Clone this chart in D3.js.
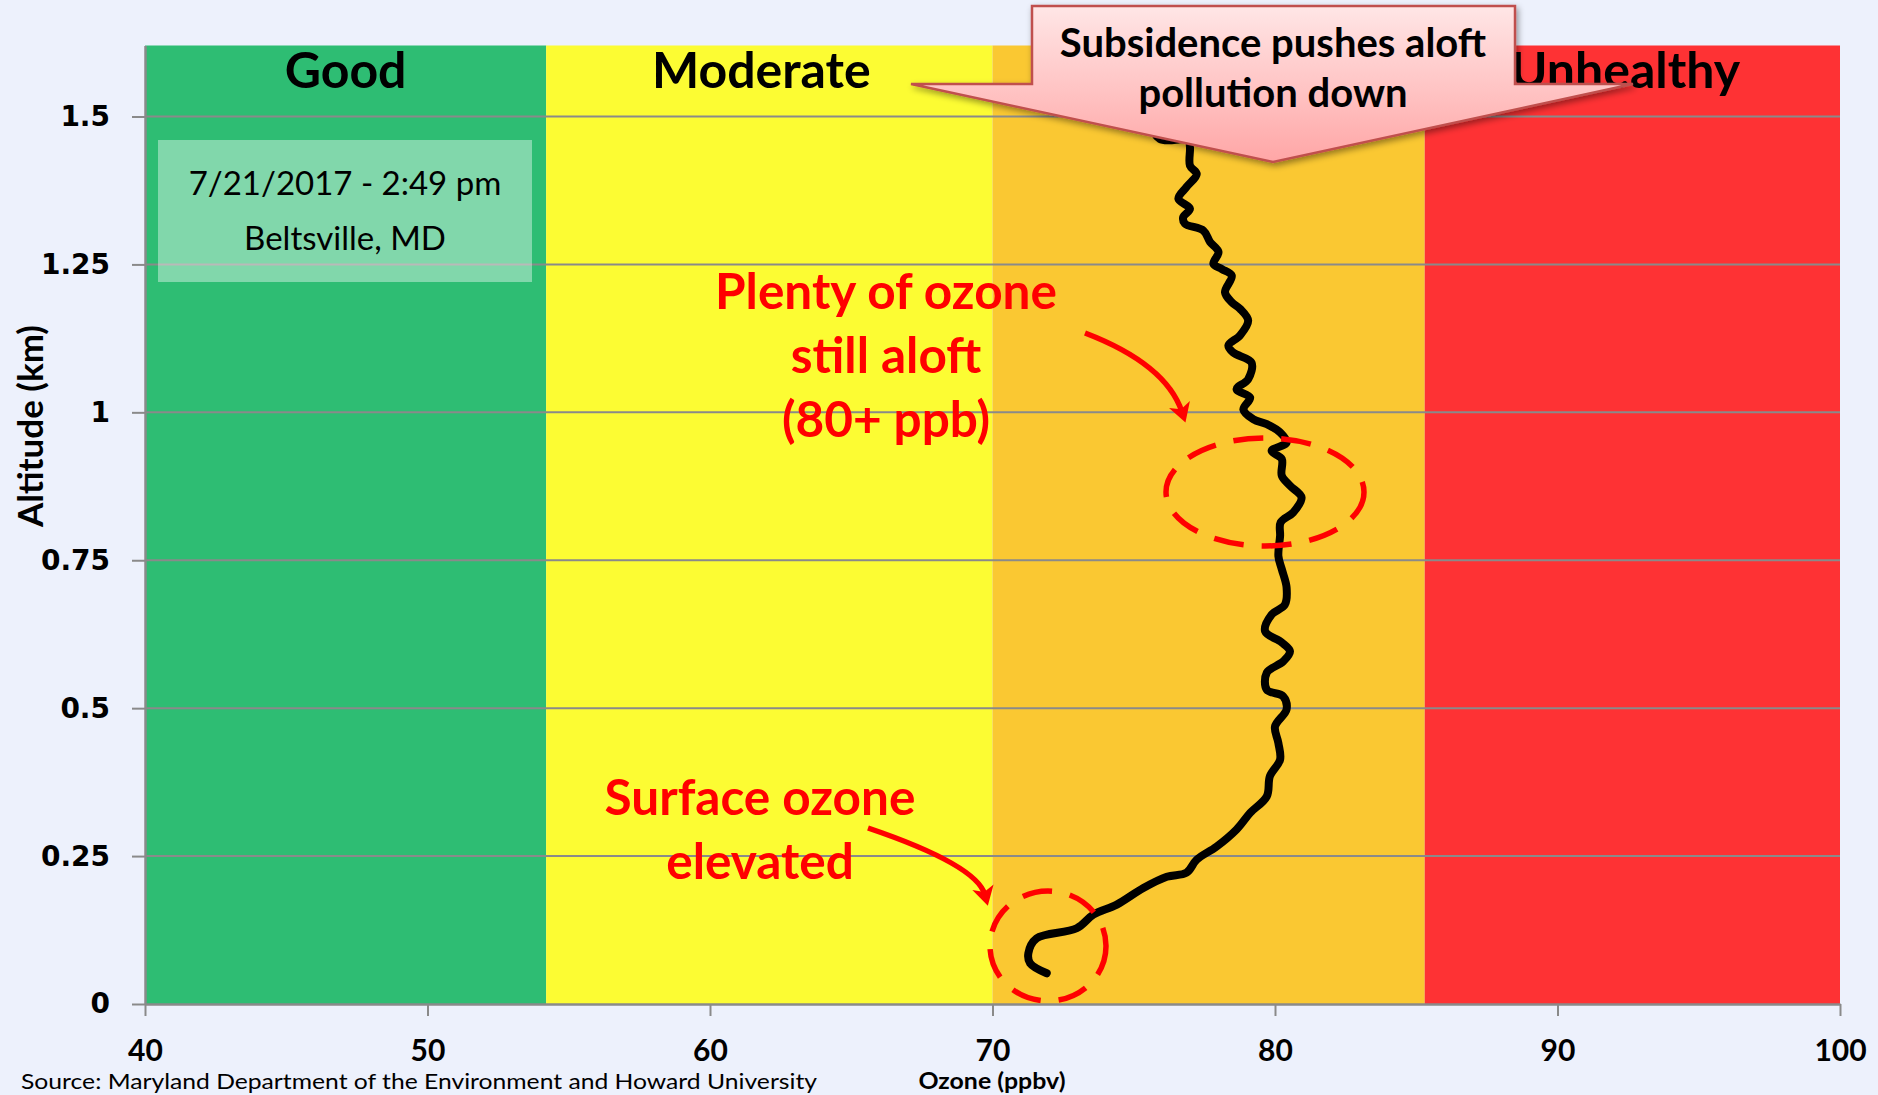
<!DOCTYPE html>
<html><head><meta charset="utf-8">
<script src="https://cdn.jsdelivr.net/npm/d3@7"></script>
<style>html,body{margin:0;padding:0;background:#EDF1FC;overflow:hidden} svg{display:block}</style>
</head><body>
<svg id="c" width="1878" height="1095"></svg>
<script>
// ---------- data ----------
const xTicks = [40, 50, 60, 70, 80, 90, 100];
const yTicks = [0, 0.25, 0.5, 0.75, 1, 1.25, 1.5];
const yTickLabels = ["0", "0.25", "0.5", "0.75", "1", "1.25", "1.5"];
const bandLabels = ["Good", "Moderate", "", "Unhealthy"];
const bandStart = [40, 54.2, 70, 85.3];
const bandEnd = [54.2, 70, 85.3, 100];
const ozone = [71.92, 71.33, 71.27, 71.56, 72.98, 73.57, 74.40, 75.34, 76.17, 76.87,
  77.23, 77.93, 78.64, 79.12, 79.71, 79.82, 80.18, 80.12, 80.00, 80.41,
  80.29, 79.71, 79.71, 80.29, 80.53, 80.24, 79.65, 79.88, 80.35, 80.41,
  80.24, 80.12, 80.18, 80.20, 80.65, 80.94, 80.53, 80.24, 80.24, 79.88,
  80.41, 80.18, 79.71, 79.24, 78.88, 79.12, 78.64, 79.05, 79.17, 78.52,
  78.35, 78.76, 79.05, 78.76, 78.47, 78.23, 78.47, 78.12, 77.82, 78.00,
  77.70, 77.47, 76.81, 76.75, 76.99, 76.58, 76.87, 77.23, 76.99, 76.99,
  76.93, 75.93, 75.60, 75.90];
const altitude = [0.052, 0.069, 0.086, 0.111, 0.128, 0.151, 0.168, 0.196, 0.215, 0.222,
  0.244, 0.266, 0.295, 0.323, 0.351, 0.385, 0.413, 0.441, 0.469, 0.498,
  0.520, 0.531, 0.560, 0.579, 0.596, 0.611, 0.630, 0.658, 0.675, 0.704,
  0.735, 0.757, 0.791, 0.814, 0.831, 0.856, 0.876, 0.893, 0.921, 0.935,
  0.949, 0.966, 0.980, 0.988, 1.005, 1.025, 1.039, 1.056, 1.084, 1.101,
  1.113, 1.130, 1.155, 1.175, 1.186, 1.203, 1.231, 1.242, 1.251, 1.271,
  1.288, 1.307, 1.319, 1.330, 1.344, 1.361, 1.381, 1.403, 1.417, 1.448,
  1.460, 1.462, 1.490, 1.530];
const xTitle = "Ozone (ppbv)";
const yTitle = "Altitude (km)";
const sourceText = "Source: Maryland Department of the Environment and Howard University";
const dateLines = ["7/21/2017 - 2:49 pm", "Beltsville, MD"];
const calloutLines = ["Subsidence pushes aloft", "pollution down"];
const aloftLines = ["Plenty of ozone", "still aloft", "(80+ ppb)"];
const surfaceLines = ["Surface ozone", "elevated"];

// ---------- styles ----------
const bandColors = ["#2EBD73", "#FCFC33", "#FAC832", "#FE3234"];
const labelShift = [0, -8, 0, -7];
const gridColor = "#8A8A8A";
const CAL = "Lato, 'Open Sans', sans-serif";

const svg = d3.select("#c");
const W = 1878, H = 1095;
svg.append("rect").attr("width", W).attr("height", H).attr("fill", "#EDF1FC");

const x = d3.scaleLinear().domain([40, 100]).range([145, 1840]);
const y = d3.scaleLinear().domain([0, 1.62]).range([1004, 45.5]);

const defs = svg.append("defs");
const grad = defs.append("linearGradient").attr("id", "cg").attr("x1", 0).attr("y1", 0).attr("x2", 0).attr("y2", 1);
grad.append("stop").attr("offset", "0%").attr("stop-color", "#FFE6E6");
grad.append("stop").attr("offset", "100%").attr("stop-color", "#FFA6A6");
const filt = defs.append("filter").attr("id", "sh").attr("x", "-10%").attr("y", "-10%").attr("width", "130%").attr("height", "140%");
filt.append("feDropShadow").attr("dx", 2).attr("dy", 3).attr("stdDeviation", 3).attr("flood-color", "#000").attr("flood-opacity", 0.4);
defs.append("marker").attr("id", "ah").attr("markerUnits", "userSpaceOnUse")
  .attr("viewBox", "-12 -12 26 24").attr("refX", 0).attr("refY", 0)
  .attr("markerWidth", 26).attr("markerHeight", 24).attr("orient", "auto")
  .append("path").attr("d", "M11,0 L-8,-11 L-3,0 L-8,11 Z").attr("fill", "#FF0000");

// bands
const bands = bandStart.map((s, i) => ({ s, e: bandEnd[i], label: bandLabels[i], color: bandColors[i], shift: labelShift[i] }));
svg.append("g").selectAll("rect").data(bands).join("rect")
  .attr("x", d => x(d.s)).attr("width", d => x(d.e) - x(d.s))
  .attr("y", y(1.62)).attr("height", y(0) - y(1.62))
  .attr("fill", d => d.color);

// gridlines
svg.append("g").selectAll("line").data(yTicks.filter(v => v > 0)).join("line")
  .attr("x1", x(40)).attr("x2", x(100)).attr("y1", d => y(d)).attr("y2", d => y(d))
  .attr("stroke", gridColor).attr("stroke-width", 2);

// band labels
svg.append("g").selectAll("text").data(bands).join("text")
  .attr("x", d => (x(d.s) + x(d.e)) / 2 + d.shift).attr("y", 88)
  .attr("text-anchor", "middle").attr("font-family", CAL).attr("font-weight", 700)
  .attr("font-size", 50).attr("fill", "#000").text(d => d.label);

// date box
svg.append("rect").attr("x", 158).attr("y", 140).attr("width", 374).attr("height", 142)
  .attr("fill", "rgba(255,255,255,0.4)");
svg.append("g").selectAll("text").data(dateLines).join("text")
  .attr("x", 345).attr("y", (d, i) => 195 + i * 55)
  .attr("text-anchor", "middle").attr("font-family", CAL).attr("font-size", 33)
  .attr("fill", "#000").text(d => d);

// profile line
const pts = ozone.map((o, i) => [o, altitude[i]]);
svg.append("path").datum(pts)
  .attr("d", d3.line().x(d => x(d[0])).y(d => y(d[1])).curve(d3.curveCatmullRom.alpha(0.5)))
  .attr("fill", "none").attr("stroke", "#000").attr("stroke-width", 8)
  .attr("stroke-linejoin", "round").attr("stroke-linecap", "round");

// dashed ellipses
svg.append("ellipse").attr("cx", 1265).attr("cy", 492).attr("rx", 99).attr("ry", 54)
  .attr("fill", "none").attr("stroke", "#FF0000").attr("stroke-width", 5.5).attr("stroke-dasharray", "30,18");
svg.append("ellipse").attr("cx", 1048).attr("cy", 946).attr("rx", 58).attr("ry", 55)
  .attr("fill", "none").attr("stroke", "#FF0000").attr("stroke-width", 5.5).attr("stroke-dasharray", "30,18");

// red annotation text
svg.append("g").selectAll("text").data(aloftLines).join("text")
  .attr("x", 886).attr("y", (d, i) => 309 + i * 64)
  .attr("text-anchor", "middle").attr("font-family", CAL).attr("font-weight", 700)
  .attr("font-size", 49.5).attr("fill", "#FF0000").text(d => d);
svg.append("g").selectAll("text").data(surfaceLines).join("text")
  .attr("x", 760).attr("y", (d, i) => 815 + i * 64)
  .attr("text-anchor", "middle").attr("font-family", CAL).attr("font-weight", 700)
  .attr("font-size", 49.5).attr("fill", "#FF0000").text(d => d);

// curved arrows
svg.append("path").attr("d", "M1085,333 Q1166,364 1182,412")
  .attr("fill", "none").attr("stroke", "#FF0000").attr("stroke-width", 5.5).attr("marker-end", "url(#ah)");
svg.append("path").attr("d", "M868,828 Q977,865 985,895")
  .attr("fill", "none").attr("stroke", "#FF0000").attr("stroke-width", 5.5).attr("marker-end", "url(#ah)");

// axes
const xAxis = d3.axisBottom(x).tickValues(xTicks).tickSize(12).tickSizeOuter(0).tickFormat(d3.format("d"));
const gx = svg.append("g").attr("transform", `translate(0,${y(0)})`).call(xAxis);
gx.select(".domain").attr("stroke", gridColor).attr("stroke-width", 2.5);
gx.selectAll(".tick line").attr("stroke", gridColor).attr("stroke-width", 2);
gx.selectAll(".tick text").attr("y", 57).attr("dy", 0)
  .attr("font-family", CAL).attr("font-weight", 700).attr("font-size", 30).attr("fill", "#000");

const yAxis = d3.axisLeft(y).tickValues(yTicks).tickSize(13).tickPadding(22).tickSizeOuter(0)
  .tickFormat((d, i) => yTickLabels[i]);
const gy = svg.append("g").attr("transform", `translate(${x(40)},0)`).call(yAxis);
gy.select(".domain").attr("stroke", gridColor).attr("stroke-width", 2.5);
gy.selectAll(".tick line").attr("stroke", gridColor).attr("stroke-width", 2);
gy.selectAll(".tick text").attr("font-family", "'DejaVu Sans', sans-serif").attr("font-weight", 700)
  .attr("font-size", 28).attr("fill", "#000");

// axis titles and source
svg.append("text").attr("transform", "translate(43,426) rotate(-90)")
  .attr("text-anchor", "middle").attr("font-family", CAL).attr("font-weight", 700)
  .attr("font-size", 35).attr("fill", "#000").text(yTitle);
svg.append("text").attr("x", 992).attr("y", 1089).attr("text-anchor", "middle")
  .attr("font-family", CAL).attr("font-weight", 700).attr("font-size", 22)
  .attr("textLength", 147).attr("lengthAdjust", "spacingAndGlyphs").attr("fill", "#000").text(xTitle);
svg.append("text").attr("x", 21).attr("y", 1089)
  .attr("font-family", CAL).attr("font-size", 22).attr("textLength", 796).attr("lengthAdjust", "spacingAndGlyphs")
  .attr("fill", "#000").text(sourceText);

// callout (down arrow)
svg.append("path")
  .attr("d", "M1032,6 L1515,6 L1515,84 L1633,84 L1273,162 L911,84 L1032,84 Z")
  .attr("fill", "url(#cg)").attr("stroke", "#C0504D").attr("stroke-width", 2.5)
  .attr("filter", "url(#sh)");
svg.append("g").selectAll("text").data(calloutLines).join("text")
  .attr("x", 1273).attr("y", (d, i) => 57 + i * 50)
  .attr("text-anchor", "middle").attr("font-family", CAL).attr("font-weight", 700)
  .attr("font-size", 40).attr("fill", "#000").text(d => d);
</script>
</body></html>
